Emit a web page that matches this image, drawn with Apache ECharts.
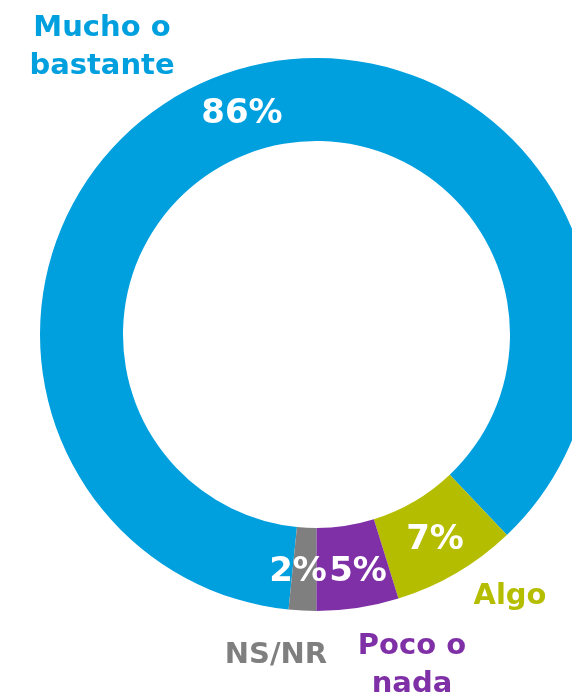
<!DOCTYPE html>
<html>
<head>
<meta charset="utf-8">
<script src="https://cdn.jsdelivr.net/npm/echarts@6/dist/echarts.min.js"></script>
<style>
html,body{margin:0;padding:0;background:#fff;}
#chart{width:572px;height:694px;}
</style>
</head>
<body>
<div id="chart"></div>
<script>
var categories = ['Mucho o\nbastante', 'Algo', 'Poco o\nnada', 'NS/NR'];
var values = [86.3, 7.3, 4.8, 1.6];
var colors = ['#00A0DF', '#B5BD00', '#7F30A6', '#7F7F7F'];

var namePos = [[102, 47], [510, 596], [412, 665], [276, 655]];
var pctPos = [[242, 114], [435, 540], [358, 572], [298, 572]];
var FONT = '"DejaVu Sans", sans-serif';

var data = categories.map(function (c, i) {
  return { name: c, value: values[i], itemStyle: { color: colors[i] } };
});
var nameData = categories.map(function (c, i) {
  return { name: c, value: values[i], label: { color: colors[i] } };
});

var chart = echarts.init(document.getElementById('chart'));
chart.setOption({
  animation: false,
  series: [
    {
      type: 'pie',
      center: [316.5, 334.5],
      radius: [193.5, 276.5],
      startAngle: 264.2,
      clockwise: true,
      silent: true,
      avoidLabelOverlap: false,
      itemStyle: { borderWidth: 0 },
      label: {
        show: true,
        position: 'outside',
        color: '#fff',
        fontFamily: FONT,
        fontWeight: 'bold',
        fontSize: 34,
        formatter: function (p) { return Math.round(p.value) + '%'; }
      },
      labelLine: { show: false },
      labelLayout: function (p) {
        var pos = pctPos[p.dataIndex];
        return { x: pos[0], y: pos[1], align: 'center', verticalAlign: 'middle' };
      },
      data: data
    },
    {
      type: 'pie',
      center: [316.5, 334.5],
      radius: [193.5, 276.5],
      startAngle: 264.2,
      clockwise: true,
      silent: true,
      avoidLabelOverlap: false,
      itemStyle: { color: 'rgba(0,0,0,0)', borderWidth: 0 },
      label: {
        show: true,
        position: 'outside',
        fontFamily: FONT,
        fontWeight: 'bold',
        fontSize: 29,
        lineHeight: 38,
        align: 'center',
        formatter: '{b}'
      },
      labelLine: { show: false },
      labelLayout: function (p) {
        var pos = namePos[p.dataIndex];
        return { x: pos[0], y: pos[1], align: 'center', verticalAlign: 'middle' };
      },
      data: nameData
    }
  ]
});
</script>
</body>
</html>
